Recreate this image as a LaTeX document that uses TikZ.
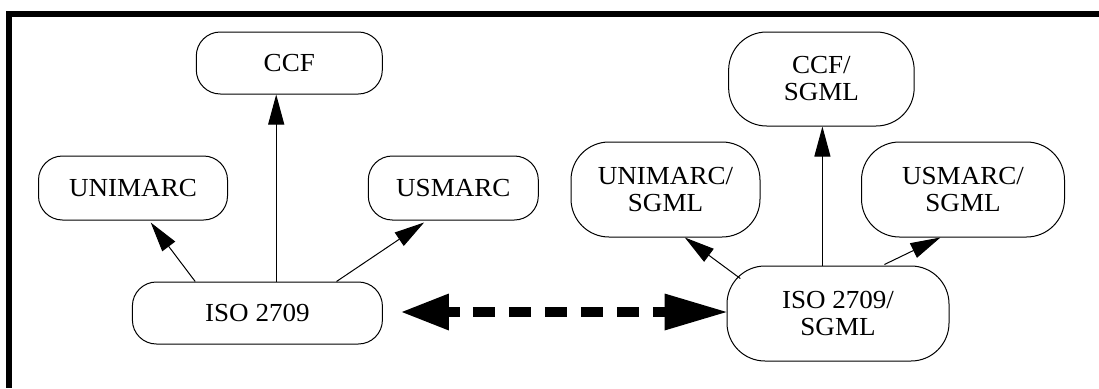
\documentclass[tikz,border=0pt]{standalone}
\usepackage{fontspec}
\setmainfont[FakeStretch=1.04]{Liberation Serif}
\usetikzlibrary{arrows.meta,calc}

\begin{document}
\begin{tikzpicture}[x=1pt,y=-1pt,
  fmt/.style={draw=black, line width=1pt, inner sep=0pt,
    align=center, font=\fontsize{26}{27}\selectfont},
  short/.style={fmt, rounded corners=24pt},
  tall/.style={fmt, rounded corners=38pt},
  link/.style={draw=black, line width=1pt, -{Triangle[length=30pt,width=16pt]}},
  convert/.style={line width=10pt,
    {Triangle[length=47pt,width=37pt,line width=0pt]}-{Triangle[length=62pt,width=37pt,line width=0pt]},
    dash pattern=on 11pt off 13pt on 22pt off 14pt on 22pt off 14pt on 22pt off 14pt
      on 22pt off 14pt on 22pt off 14pt on 22pt off 14pt on 13pt}]

  % page extent and the frame edges (top and left)
  \useasboundingbox (0,0) rectangle (1099,388);
  \fill[black] (6,11) rectangle (1099,16.5);
  \fill[black] (6,11) rectangle (12,388);

  % plain formats
  \node[short, minimum width=186pt, minimum height=62pt] (ccf)     at (289.3,63) {CCF};
  \node[short, minimum width=189pt, minimum height=64pt] (unimarc) at (133,188)  {UNIMARC};
  \node[short, minimum width=170pt, minimum height=64pt] (usmarc)  at (453.3,188) {USMARC};
  \node[short, minimum width=250pt, minimum height=62pt] (iso)     at (257.4,313) {ISO 2709};

  % SGML formats
  \node[tall, minimum width=185.5pt, minimum height=94pt] (ccfs)     at (821.4,79)    {CCF/\\SGML};
  \node[tall, minimum width=189pt,   minimum height=95pt] (unimarcs) at (665.5,189.5) {UNIMARC/\\SGML};
  \node[tall, minimum width=203pt,   minimum height=95pt] (usmarcs)  at (963,189.5)   {USMARC/\\SGML};
  \node[tall, minimum width=222pt,   minimum height=95pt] (isos)     at (838,313.5)   {ISO 2709/\\SGML};

  % ISO 2709 derived formats
  \coordinate (a1) at ($(iso.north)+(18.8,0)$);
  \draw[link] ($(iso.north)+(-62.2,0)$) -- ($(unimarc.south)+(17.7,2)$);
  \draw[link] (a1) -- (a1 |- ccf.south);
  \draw[link] ($(iso.north)+(79.1,0)$) -- ($(usmarc.south)+(-29.2,2)$);

  % ISO 2709/SGML derived formats
  \coordinate (b1) at ($(isos.north)+(-15.6,0)$);
  \draw[link] ($(isos.north west)+(13.8,13)$) -- ($(unimarcs.south)+(19.3,0)$);
  \draw[link] (b1) -- (b1 |- ccfs.south);
  \draw[link] ($(isos.north)+(46.4,-1)$) -- ($(usmarcs.south)+(-22.6,0)$);

  % two-way conversion
  \draw[convert] ($(iso.east)+(19,-1)$) -- ($(isos.west)+(0,-1.5)$);
\end{tikzpicture}
\end{document}
